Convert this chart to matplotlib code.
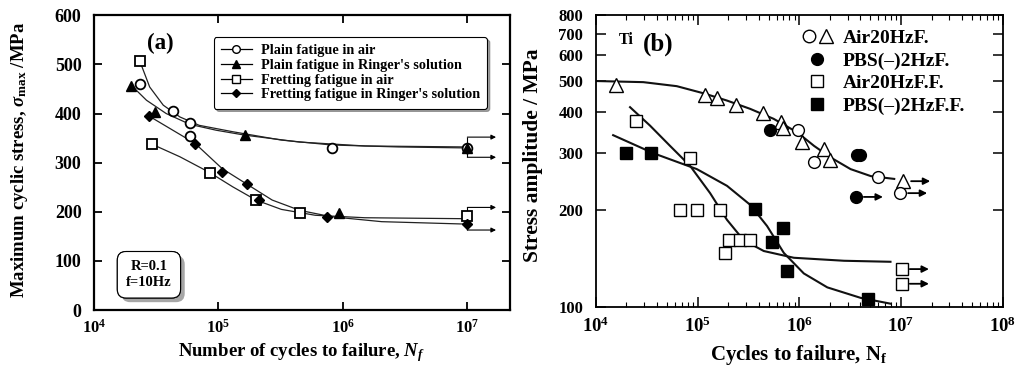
import matplotlib
matplotlib.use("Agg")
import matplotlib.pyplot as plt
import matplotlib.ticker as mticker
from matplotlib.lines import Line2D
from matplotlib.legend_handler import HandlerTuple
from matplotlib import patheffects

plt.rcParams['font.family'] = ['Liberation Serif', 'DejaVu Serif']
plt.rcParams['font.weight'] = 'bold'
plt.rcParams['axes.labelweight'] = 'bold'
plt.rcParams['mathtext.fontset'] = 'custom'
plt.rcParams['mathtext.rm'] = 'Liberation Serif:bold'
plt.rcParams['mathtext.it'] = 'Liberation Serif:italic:bold'
plt.rcParams['mathtext.bf'] = 'Liberation Serif:bold'

# ---- panel (a): measured points ----
air_n = [2.33e4, 4.3e4, 5.9e4, 5.9e4, 8.1e5, 1e7]
air_s = [460, 405, 380, 354, 330, 330]
ringer_n = [2.0e4, 3.1e4, 1.63e5, 9.3e5, 1e7]
ringer_s = [457, 403, 356, 197, 330]
fret_air_n = [2.33e4, 2.9e4, 8.5e4, 2.0e5, 4.5e5, 1e7]
fret_air_s = [507, 338, 280, 224, 197, 191]
fret_ringer_n = [2.76e4, 6.5e4, 1.07e5, 1.7e5, 2.13e5, 7.4e5, 1e7]
fret_ringer_s = [395, 339, 281, 256, 225, 190, 176]

# fitted curves
fit1_n = [2.33e4, 2.8e4, 3.6e4, 4.9e4, 7.0e4, 1.3e5, 3.2e5, 8.1e5, 2.8e6, 1e7]
fit1_s = [507, 454, 417, 393, 376, 363, 346, 336, 332, 330]
fit2_n = [2.0e4, 2.64e4, 3.8e4, 5.9e4, 9.6e4, 1.63e5, 4.45e5, 1.5e6, 1e7]
fit2_s = [457, 427, 400, 378, 366, 356, 342, 334, 332]
fit3_n = [2.9e4, 4.9e4, 8.5e4, 1.3e5, 2.0e5, 3.2e5, 6.0e5, 1.5e6, 1e7]
fit3_s = [338, 312, 280, 251, 224, 205, 193, 188, 186]
fit4_n = [2.76e4, 4.3e4, 6.5e4, 1.07e5, 1.7e5, 2.7e5, 4.5e5, 8.1e5, 2.05e6, 1e7]
fit4_s = [395, 366, 339, 288, 256, 224, 203, 190, 180, 175]

# run-out arrow levels at 1e7 cycles
runout_a_upper = [352, 311]
runout_a_lower = [209, 163]

# ---- panel (b): measured points ----
air_tri_n = [1.57e4, 1.19e5, 1.55e5, 2.37e5, 4.37e5, 6.6e5, 6.9e5, 1.07e6, 1.75e6, 2.0e6, 1.05e7]
air_tri_s = [487, 454, 443, 422, 397, 374, 359, 324, 309, 284, 245]
air_circ_n = [9.8e5, 1.4e6, 5.9e6, 9.8e6]
air_circ_s = [353, 280, 252, 225]
pbs_circ_n = [5.2e5, 3.7e6, 4.0e6, 3.6e6]
pbs_circ_s = [353, 295, 295, 219]
air_sq_n = [2.5e4, 8.5e4, 6.8e4, 9.8e4, 1.67e5, 2.02e5, 2.64e5, 3.3e5, 1.85e5, 1.02e7, 1.02e7]
air_sq_s = [377, 288, 199, 199, 199, 161, 161, 161, 147, 131, 118]
pbs_sq_n = [2.0e4, 3.5e4, 3.7e5, 7.0e5, 5.4e5, 7.6e5, 4.8e6]
pbs_sq_s = [300, 300, 201, 176, 159, 129, 106]
runout_b_n = [1.05e7, 9.8e6, 3.6e6, 1.02e7, 1.02e7]
runout_b_s = [245, 225, 219, 131, 118]

fitF_n = [1e4, 2.93e4, 6.25e4, 1.15e5, 1.95e5, 3.3e5, 5.6e5, 9.55e5, 1.4e6, 2.04e6, 3.2e6, 5.06e6, 8.6e6]
fitF_s = [500, 496, 482, 458, 435, 410, 382, 347, 315, 290, 267, 254, 249]
fitFF_air_n = [2.17e4, 3.41e4, 5.37e4, 8.47e4, 1.33e5, 1.95e5, 2.84e5, 4.48e5, 8.85e5, 2.76e6, 7.9e6]
fitFF_air_s = [415, 364, 315, 273, 225, 186, 161, 149, 142, 139, 138]
fitFF_pbs_n = [1.48e4, 3.68e4, 9.85e4, 1.95e5, 3.3e5, 4.83e5, 7.06e5, 1.11e6, 1.89e6, 4.03e6, 7.9e6]
fitFF_pbs_s = [340, 299, 267, 237, 207, 178, 147, 127, 115, 106.7, 102.4]

fig = plt.figure(figsize=(10.22, 3.71), dpi=100)
ax1 = fig.add_axes([0.092, 0.164, 0.407, 0.795])
ax2 = fig.add_axes([0.583, 0.1725, 0.398, 0.787])

# ---------------- panel (a) ----------------
for n, s in [(fit1_n, fit1_s), (fit2_n, fit2_s), (fit3_n, fit3_s), (fit4_n, fit4_s)]:
    ax1.plot(n, s, color='#222222', lw=0.9, zorder=2)

mk = dict(color='black', ls='none', zorder=3)
ax1.plot(air_n, air_s, marker='o', ms=7, mfc='white', mew=1.3, **mk)
ax1.plot(ringer_n, ringer_s, marker='^', ms=7, mfc='black', **mk)
ax1.plot(fret_air_n, fret_air_s, marker='s', ms=7, mfc='white', mew=1.3, **mk)
ax1.plot(fret_ringer_n, fret_ringer_s, marker='D', ms=5, mfc='black', **mk)

for levels in (runout_a_upper, runout_a_lower):
    ax1.vlines(1e7, min(levels), max(levels), color='black', lw=0.8, zorder=1)
    for lv in levels:
        ax1.annotate('', xy=(1.7e7, lv), xytext=(1e7, lv),
                     arrowprops=dict(arrowstyle='-|>', color='black', lw=0.8,
                                     mutation_scale=7, shrinkA=0, shrinkB=0))

ax1.set_xscale('log')
ax1.set_xlim(1e4, 2.2e7)
ax1.set_ylim(0, 600)
ax1.set_yticks(range(0, 601, 100))
ax1.xaxis.set_major_locator(mticker.LogLocator(base=10, numticks=10))
ax1.xaxis.set_minor_locator(mticker.NullLocator())
ax1.tick_params(which='major', direction='in', top=True, right=True, length=6, width=1.3)
ax1.tick_params(axis='y', labelsize=13, pad=9)
ax1.tick_params(axis='x', labelsize=12, pad=6)
for sp in ax1.spines.values():
    sp.set_linewidth(1.6)

ax1.set_xlabel('Number of cycles to failure, $N_f$', fontsize=13.5)
ax1.set_ylabel(r'Maximum cyclic stress, $\sigma_{\mathrm{max}}$ /MPa', fontsize=13.5)
ax1.xaxis.set_label_coords(0.498, -0.105)
ax1.yaxis.set_label_coords(-0.155, 0.51)

ax1.text(3.4e4, 542, '(a)', fontsize=16.5, ha='center', va='center')

handles_a = [
    Line2D([], [], color='black', lw=0.9, marker='o', ms=5.5, mfc='white'),
    Line2D([], [], color='black', lw=0.9, marker='^', ms=6, mfc='black'),
    Line2D([], [], color='black', lw=0.9, marker='s', ms=5.5, mfc='white'),
    Line2D([], [], color='black', lw=0.9, marker='D', ms=4, mfc='black'),
]
labels_a = ['Plain fatigue in air', "Plain fatigue in Ringer's solution",
            'Fretting fatigue in air', "Fretting fatigue in Ringer's solution"]
leg = ax1.legend(handles_a, labels_a, loc='upper right', bbox_to_anchor=(0.962, 0.95),
                 fontsize=10.3, frameon=True, fancybox=True, shadow=True,
                 handlelength=2.2, handletextpad=0.6, labelspacing=0.12,
                 borderpad=0.5, edgecolor='black')
leg.get_frame().set_linewidth(0.8)

rt = ax1.text(0.132, 0.12, 'R=0.1\nf=10Hz', transform=ax1.transAxes, fontsize=10.5,
              ha='center', va='center', linespacing=1.3,
              bbox=dict(boxstyle='round,pad=0.6', fc='white', ec='black', lw=0.8))
rt.get_bbox_patch().set_path_effects([patheffects.withSimplePatchShadow(offset=(3, -3), shadow_rgbFace='gray', alpha=0.7),
                                      patheffects.Normal()])

# ---------------- panel (b) ----------------
for n, s in [(fitF_n, fitF_s), (fitFF_air_n, fitFF_air_s), (fitFF_pbs_n, fitFF_pbs_s)]:
    ax2.plot(n, s, color='#111111', lw=1.5, zorder=2)

ax2.plot(air_tri_n, air_tri_s, marker='^', ms=9.5, mfc='white', mew=1.0, **mk)
ax2.plot(air_circ_n, air_circ_s, marker='o', ms=8.5, mfc='white', mew=1.0, **mk)
ax2.plot(pbs_circ_n, pbs_circ_s, marker='o', ms=8.5, mfc='black', **mk)
ax2.plot(air_sq_n, air_sq_s, marker='s', ms=8, mfc='white', mew=1.0, **mk)
ax2.plot(pbs_sq_n, pbs_sq_s, marker='s', ms=8, mfc='black', **mk)

for n, s in zip(runout_b_n, runout_b_s):
    ax2.annotate('', xy=(n * 1.85, s), xytext=(n * 1.2, s),
                 arrowprops=dict(arrowstyle='-|>', color='black', lw=1.3,
                                 mutation_scale=10, shrinkA=0, shrinkB=0))

ax2.set_xscale('log')
ax2.set_yscale('log')
ax2.set_xlim(1e4, 1e8)
ax2.set_ylim(100, 800)
ax2.yaxis.set_major_locator(mticker.FixedLocator([100, 200, 300, 400, 500, 600, 700, 800]))
ax2.yaxis.set_major_formatter(mticker.FormatStrFormatter('%d'))
ax2.yaxis.set_minor_locator(mticker.NullLocator())
ax2.xaxis.set_major_locator(mticker.LogLocator(base=10, numticks=10))
ax2.xaxis.set_minor_locator(mticker.LogLocator(base=10, subs=range(2, 10), numticks=20))
ax2.xaxis.set_minor_formatter(mticker.NullFormatter())
ax2.tick_params(which='both', direction='in', top=True, right=True)
ax2.tick_params(which='major', length=7, width=1.1)
ax2.tick_params(which='minor', length=3.5, width=0.8)
ax2.tick_params(axis='y', labelsize=12, pad=9)
ax2.tick_params(axis='x', labelsize=13.5, pad=7)
for sp in ax2.spines.values():
    sp.set_linewidth(1.3)

ax2.set_xlabel('Cycles to failure, N$_\\mathrm{f}$', fontsize=15)
ax2.set_ylabel('Stress amplitude / MPa', fontsize=15.5)
ax2.xaxis.set_label_coords(0.50, -0.125)
ax2.yaxis.set_label_coords(-0.13, 0.52)

ax2.text(2.0e4, 670, 'Ti', fontsize=11.5, ha='center', va='center')
ax2.text(4.1e4, 650, '(b)', fontsize=18, ha='center', va='center')

mb = dict(color='black', ls='none')
h_air_f = (Line2D([], [], marker='o', ms=9, mfc='white', **mb),
           Line2D([], [], marker='^', ms=9.5, mfc='white', **mb))
h_pbs_f = Line2D([], [], marker='o', ms=8.5, mfc='black', **mb)
h_air_ff = Line2D([], [], marker='s', ms=8, mfc='white', **mb)
h_pbs_ff = Line2D([], [], marker='s', ms=8, mfc='black', **mb)
ax2.legend([h_air_f, h_pbs_f, h_air_ff, h_pbs_ff],
           ['Air20HzF.', 'PBS(\u2013)2HzF.', 'Air20HzF.F.', 'PBS(\u2013)2HzF.F.'],
           handler_map={tuple: HandlerTuple(ndivide=None, pad=0.1)},
           loc='upper left', bbox_to_anchor=(0.478, 0.99), frameon=False,
           fontsize=14, handlelength=1.6, handletextpad=0.5, labelspacing=0.25,
           borderaxespad=0.2)

fig.savefig('out.png', dpi=100)
